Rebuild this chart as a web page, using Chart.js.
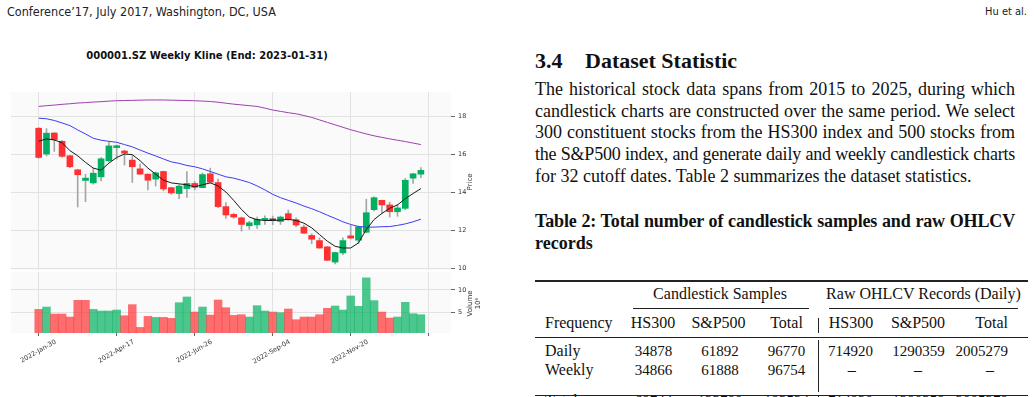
<!DOCTYPE html>
<html>
<head>
<meta charset="utf-8">
<script src="https://cdn.jsdelivr.net/npm/chart.js@4.4.1/dist/chart.umd.min.js"></script>
<style>
  body { margin: 0; width: 1034px; height: 397px; overflow: hidden; background: #fff; position: relative; color: #111; font-family: 'Liberation Serif', serif; }
  .abs { position: absolute; white-space: nowrap; }
  .hdr { font-family: 'Liberation Sans Narrow', 'DejaVu Sans', sans-serif; font-stretch: condensed; font-size: 12.5px; line-height: 13px; top: 5px; color: #222; }
  #kTitle { left: 0; width: 414px; top: 50px; text-align: center; font: bold 10px/12px 'DejaVu Sans', sans-serif; color: #111; }
  .wrap { position: absolute; left: 0; width: 500px; }
  .para { left: 535px; width: 480px; font-size: 18px; line-height: 21.65px; }
  .para div { text-align: justify; text-align-last: justify; white-space: nowrap; }
  .para div.last { text-align-last: left; }
  .cell { font-size: 16px; line-height: 16px; }
  .num { font-size: 15px; }
  .rule { position: absolute; background: #222; }
</style>
</head>
<body>
<div class="abs hdr" style="left:7px">Conference’17, July 2017, Washington, DC, USA</div>
<div class="abs hdr" style="right:7px;font-size:11px">Hu et al.</div>

<div class="abs" id="kTitle">000001.SZ Weekly Kline (End: 2023-01-31)</div>
<div class="wrap" style="top:90px;height:181px"><canvas id="priceChart" width="500" height="181"></canvas></div>
<div class="wrap" style="top:272px;height:110px"><canvas id="volChart" width="500" height="110"></canvas></div>

<div class="abs" style="left:535px;top:50px;font:bold 22px/22px 'Liberation Serif',serif">3.4</div>
<div class="abs" style="left:585px;top:50px;font:bold 22px/22px 'Liberation Serif',serif">Dataset Statistic</div>

<div class="abs para" style="top:79px">
  <div>The historical stock data spans from 2015 to 2025, during which</div>
  <div>candlestick charts are constructed over the same period. We select</div>
  <div>300 constituent stocks from the HS300 index and 500 stocks from</div>
  <div style="letter-spacing:-0.22px">the S&amp;P500 index, and generate daily and weekly candlestick charts</div>
  <div class="last">for 32 cutoff dates. Table 2 summarizes the dataset statistics.</div>
</div>

<div class="abs para" style="top:211px;font-weight:bold">
  <div style="letter-spacing:-0.15px">Table 2: Total number of candlestick samples and raw OHLCV</div>
  <div class="last">records</div>
</div>

<div id="table"></div>

<script>
// x positions are bar indexes (weekly bars, holiday weeks skipped)
const tickIndex = [0, 10, 20, 30, 40, 50];
const tickDates = ['2022-Jan-30', '2022-Apr-17', '2022-Jun-26', '2022-Sep-04', '2022-Nov-20', ''];
const priceTicks = [10, 12, 14, 16, 18];
const volumeTicks = [5, 10];

const opens = [17.38, 16.02, 17.13, 16.69, 15.93, 15.19, 14.63, 14.50, 14.82, 15.67,
               16.36, 16.18, 15.70, 15.24, 14.96, 14.70, 15.10, 14.25, 13.94, 14.20,
               14.47, 14.25, 14.98, 14.52, 13.25, 12.84, 12.66, 12.24, 12.29, 12.56,
               12.55, 12.47, 12.88, 12.56, 12.17, 11.73, 11.46, 11.13, 10.33, 10.81,
               11.71, 11.48, 11.90, 13.09, 13.58, 13.34, 12.98, 13.16, 14.75, 14.96];
const highs = [17.42, 17.36, 17.15, 16.74, 15.95, 15.22, 14.96, 15.28, 15.84, 16.67,
               16.50, 16.23, 15.93, 15.49, 14.98, 15.08, 15.12, 14.27, 14.40, 15.10,
               14.57, 15.02, 15.28, 14.70, 13.46, 12.90, 12.70, 12.49, 12.70, 12.77,
               12.75, 12.75, 13.07, 12.66, 12.28, 11.82, 11.60, 11.15, 10.85, 11.60,
               12.26, 12.22, 13.64, 13.76, 13.60, 13.48, 13.37, 14.73, 15.00, 15.31];
const lows = [15.80, 15.92, 16.16, 15.84, 15.30, 13.23, 13.51, 14.43, 14.61, 15.60,
              15.76, 15.44, 14.52, 14.95, 14.13, 14.34, 14.08, 13.90, 13.67, 13.74,
              14.13, 14.24, 14.50, 13.20, 12.63, 12.63, 11.96, 12.05, 12.10, 12.31,
              12.30, 12.31, 12.52, 12.19, 11.83, 11.30, 11.05, 10.40, 10.23, 10.72,
              11.55, 11.30, 11.88, 13.02, 12.91, 12.70, 12.74, 13.09, 14.47, 14.78];
const closes = [15.84, 17.12, 16.78, 15.90, 15.35, 14.93, 14.75, 15.01, 15.77, 16.45,
                16.46, 16.07, 15.35, 14.96, 14.64, 15.03, 14.18, 13.97, 14.33, 14.47,
                14.27, 14.94, 14.54, 13.25, 12.81, 12.70, 12.31, 12.40, 12.58, 12.63,
                12.55, 12.70, 12.58, 12.28, 11.85, 11.53, 11.07, 10.42, 10.83, 11.46,
                11.59, 12.19, 12.93, 13.72, 13.34, 12.98, 13.18, 14.64, 14.98, 15.16];
// volume in 10^6
const volumes = [5.67, 6.19, 4.63, 4.63, 3.96, 7.69, 7.69, 5.67, 5.30, 5.30,
                 5.52, 4.25, 6.72, 1.64, 4.10, 3.88, 3.88, 3.66, 7.16, 8.43,
                 5.07, 6.19, 4.40, 7.76, 6.04, 4.33, 4.48, 3.96, 6.49, 5.30,
                 5.07, 4.93, 5.75, 3.36, 3.96, 3.96, 4.48, 5.90, 6.42, 5.52,
                 8.66, 6.34, 12.69, 7.61, 5.07, 3.73, 3.96, 7.24, 4.70, 4.48];
const maShort = [16.69, 16.82, 16.76, 16.62, 16.20, 15.93, 15.58, 15.28, 15.17, 15.54,
                 15.84, 16.02, 15.99, 15.67, 15.28, 14.96, 14.64, 14.50, 14.45, 14.40,
                 14.29, 14.40, 14.50, 14.34, 14.02, 13.58, 13.10, 12.70, 12.56, 12.52,
                 12.52, 12.54, 12.58, 12.52, 12.38, 12.13, 11.78, 11.43, 11.16, 11.07,
                 11.07, 11.34, 12.04, 12.57, 12.89, 13.16, 13.34, 13.67, 13.94, 14.20];
const maMid = [17.91, 17.88, 17.79, 17.66, 17.52, 17.29, 17.08, 16.85, 16.75, 16.69,
               16.64, 16.52, 16.40, 16.23, 16.07, 15.92, 15.76, 15.61, 15.53, 15.42,
               15.35, 15.24, 15.10, 14.96, 14.82, 14.75, 14.64, 14.52, 14.34, 14.13,
               13.90, 13.72, 13.58, 13.44, 13.28, 13.14, 12.98, 12.80, 12.63, 12.45,
               12.31, 12.20, 12.17, 12.17, 12.19, 12.20, 12.26, 12.34, 12.45, 12.59];
const maLong = [18.53, 18.57, 18.60, 18.64, 18.67, 18.71, 18.73, 18.76, 18.78, 18.81,
                18.83, 18.84, 18.85, 18.86, 18.87, 18.87, 18.87, 18.86, 18.85, 18.84,
                18.83, 18.81, 18.79, 18.75, 18.70, 18.65, 18.61, 18.57, 18.53, 18.44,
                18.34, 18.27, 18.20, 18.14, 18.05, 17.95, 17.82, 17.69, 17.56, 17.43,
                17.30, 17.19, 17.08, 16.98, 16.90, 16.82, 16.75, 16.68, 16.60, 16.52];

const UP = '#00b060', DOWN = '#fe3032';
const UP_VOL = 'rgba(0, 176, 96, 0.7)', DOWN_VOL = 'rgba(254, 48, 50, 0.7)';
const GRID = '#e2e2e2';
const TXT = '#333';
const TICK_FONT = { size: 6.5, family: 'DejaVu Sans' };

const candleColors = closes.map((c, i) => c > opens[i] ? UP : (c < opens[i] ? DOWN : '#404040'));
const volColors = closes.map((c, i) => {
    const ref = i === 0 ? opens[0] : closes[i - 1];
    return c >= ref ? UP_VOL : DOWN_VOL;
});

/*------------------shared plugins------------------------*/
const panelBg = {
    id: 'panelBg',
    beforeDraw(chart) {
        const { ctx, chartArea: a } = chart;
        ctx.save();
        ctx.fillStyle = '#fafafa';
        ctx.fillRect(a.left, a.top, a.right - a.left, a.bottom - a.top);
        ctx.restore();
    }
};

function sideLabel(lines) {
    return {
        id: 'sideLabel',
        afterDraw(chart) {
            const { ctx, chartArea: a } = chart;
            const cy = (a.top + a.bottom) / 2 + 1;
            ctx.save();
            ctx.font = '7px "DejaVu Sans"';
            ctx.fillStyle = TXT;
            ctx.textAlign = 'center';
            ctx.textBaseline = 'middle';
            lines.forEach((t, k) => {
                ctx.save();
                ctx.translate(a.right + 19.5 + k * 7.5, cy);
                ctx.rotate(-Math.PI / 2);
                ctx.fillText(t, 0, 0);
                ctx.restore();
            });
            ctx.restore();
        }
    };
}

function xScale(showLabels) {
    return {
        type: 'linear',
        min: -3.55,
        max: 52.86,
        offset: false,
        afterBuildTicks: s => { s.ticks = tickIndex.map(v => ({ value: v })); },
        grid: { color: GRID, offset: false, drawTicks: showLabels, tickLength: 3, tickColor: '#666' },
        border: { display: false },
        ticks: {
            display: showLabels,
            autoSkip: false,
            maxRotation: 30,
            minRotation: 30,
            labelOffset: 17,
            padding: 2,
            color: TXT,
            font: TICK_FONT,
            callback: (v, i) => tickDates[i]
        },
        afterFit: s => {
            s.height = showLabels ? 49 : 1;
            s.paddingLeft = 0;
            s.paddingRight = 0;
        }
    };
}

function yScale(min, max, ticks) {
    return {
        type: 'linear',
        position: 'right',
        min: min,
        max: max,
        afterBuildTicks: s => { s.ticks = ticks.map(v => ({ value: v })); },
        grid: { color: GRID, tickLength: 4, tickColor: '#666' },
        border: { display: false },
        ticks: { color: TXT, padding: 3, font: TICK_FONT },
        afterFit: s => {
            s.width = 49;
            s.paddingTop = 0;
            s.paddingBottom = 0;
        }
    };
}

const common = {
    responsive: false,
    animation: false,
    plugins: { legend: { display: false }, tooltip: { enabled: false } }
};

/*------------------price panel------------------------*/
const maLine = (vals, color) => ({
    type: 'line',
    data: vals.map((v, i) => ({ x: i, y: v })),
    borderColor: color,
    borderWidth: 1,
    pointRadius: 0,
    tension: 0,
    order: -1
});

new Chart(document.getElementById('priceChart').getContext('2d'), {
    type: 'bar',
    data: {
        datasets: [
            maLine(maShort, '#1a1a1a'),
            maLine(maMid, '#3c3cf5'),
            maLine(maLong, '#a040b0'),
            {
                label: 'body',
                data: closes.map((c, i) => ({ x: i, y: [opens[i], c] })),
                backgroundColor: candleColors,
                barThickness: 6,
                minBarLength: 1,
                grouped: false,
                order: 0
            },
            {
                label: 'wick',
                data: closes.map((c, i) => ({ x: i, y: [lows[i], highs[i]] })),
                backgroundColor: '#a6a6a6',
                barThickness: 1,
                grouped: false,
                order: 1
            }
        ]
    },
    options: {
        ...common,
        layout: { padding: { left: 11, top: 2, right: 0, bottom: 0 } },
        scales: { x: xScale(false), y: yScale(9.91, 19.29, priceTicks) }
    },
    plugins: [panelBg, sideLabel(['Price'])]
});

/*------------------volume panel------------------------*/
new Chart(document.getElementById('volChart').getContext('2d'), {
    type: 'bar',
    data: {
        datasets: [{
            label: 'Volume',
            data: volumes.map((v, i) => ({ x: i, y: v })),
            backgroundColor: volColors,
            barPercentage: 1,
            categoryPercentage: 1
        }]
    },
    options: {
        ...common,
        layout: { padding: { left: 11, top: 0, right: 0, bottom: 0 } },
        scales: { x: xScale(true), y: yScale(0.4, 14.0, volumeTicks) }
    },
    plugins: [panelBg, sideLabel(['Volume', '10\u2076'])]
});

/*------------------table (text placed like the paper) ------------------------*/
const tableCells = [
    ['Candlestick Samples', 720, 299, 'c'], ['Raw OHLCV Records (Daily)', 923.5, 299, 'c'],
    ['Frequency', 545, 328, 'l'], ['HS300', 653, 328, 'c'], ['S&P500', 718.5, 328, 'c'], ['Total', 786.5, 328, 'c'],
    ['HS300', 851, 328, 'c'], ['S&P500', 918, 328, 'c'], ['Total', 1008, 328, 'r'],
    ['Daily', 545, 356.7, 'l'], ['34878', 653.5, 356.7, 'c'], ['61892', 720, 356.7, 'c'], ['96770', 786.5, 356.7, 'c'],
    ['714920', 850.5, 356.7, 'c'], ['1290359', 918.5, 356.7, 'c'], ['2005279', 1008, 356.7, 'r'],
    ['Weekly', 545, 375, 'l'], ['34866', 653.5, 375, 'c'], ['61888', 720, 375, 'c'], ['96754', 786.5, 375, 'c'],
    ['–', 851.7, 375, 'c'], ['–', 918, 375, 'c'], ['–', 990, 375, 'c'],
    ['Total', 545, 406, 'l'], ['69744', 653.5, 406, 'c'], ['123780', 720, 406, 'c'], ['193524', 786.5, 406, 'c'],
    ['714920', 850.5, 406, 'c'], ['1290359', 918.5, 406, 'c'], ['2005279', 1008, 406, 'r']
];
// [left, top, width, height]
const tableRules = [
    [535, 280, 493, 2], [633, 308, 176, 1], [829, 308, 189, 1], [535, 337, 493, 1], [535, 395, 493, 1],
    [818, 318, 1, 15], [818, 340, 1, 52], [818, 396, 1, 2]
];

const tbl = document.getElementById('table');
tableCells.forEach(([text, x, base, align]) => {
    const d = document.createElement('div');
    d.className = /^[0-9]+$/.test(text) ? 'abs cell num' : 'abs cell';
    d.textContent = text;
    d.style.top = (base - 13.4) + 'px';
    if (align === 'l') {
        d.style.left = x + 'px';
    } else if (align === 'r') {
        d.style.left = (x - 200) + 'px'; d.style.width = '200px'; d.style.textAlign = 'right';
    } else {
        d.style.left = (x - 100) + 'px'; d.style.width = '200px'; d.style.textAlign = 'center';
    }
    tbl.appendChild(d);
});
tableRules.forEach(([l, t, w, h]) => {
    const r = document.createElement('div');
    r.className = 'rule';
    Object.assign(r.style, { left: l + 'px', top: t + 'px', width: w + 'px', height: h + 'px' });
    tbl.appendChild(r);
});
</script>
</body>
</html>
